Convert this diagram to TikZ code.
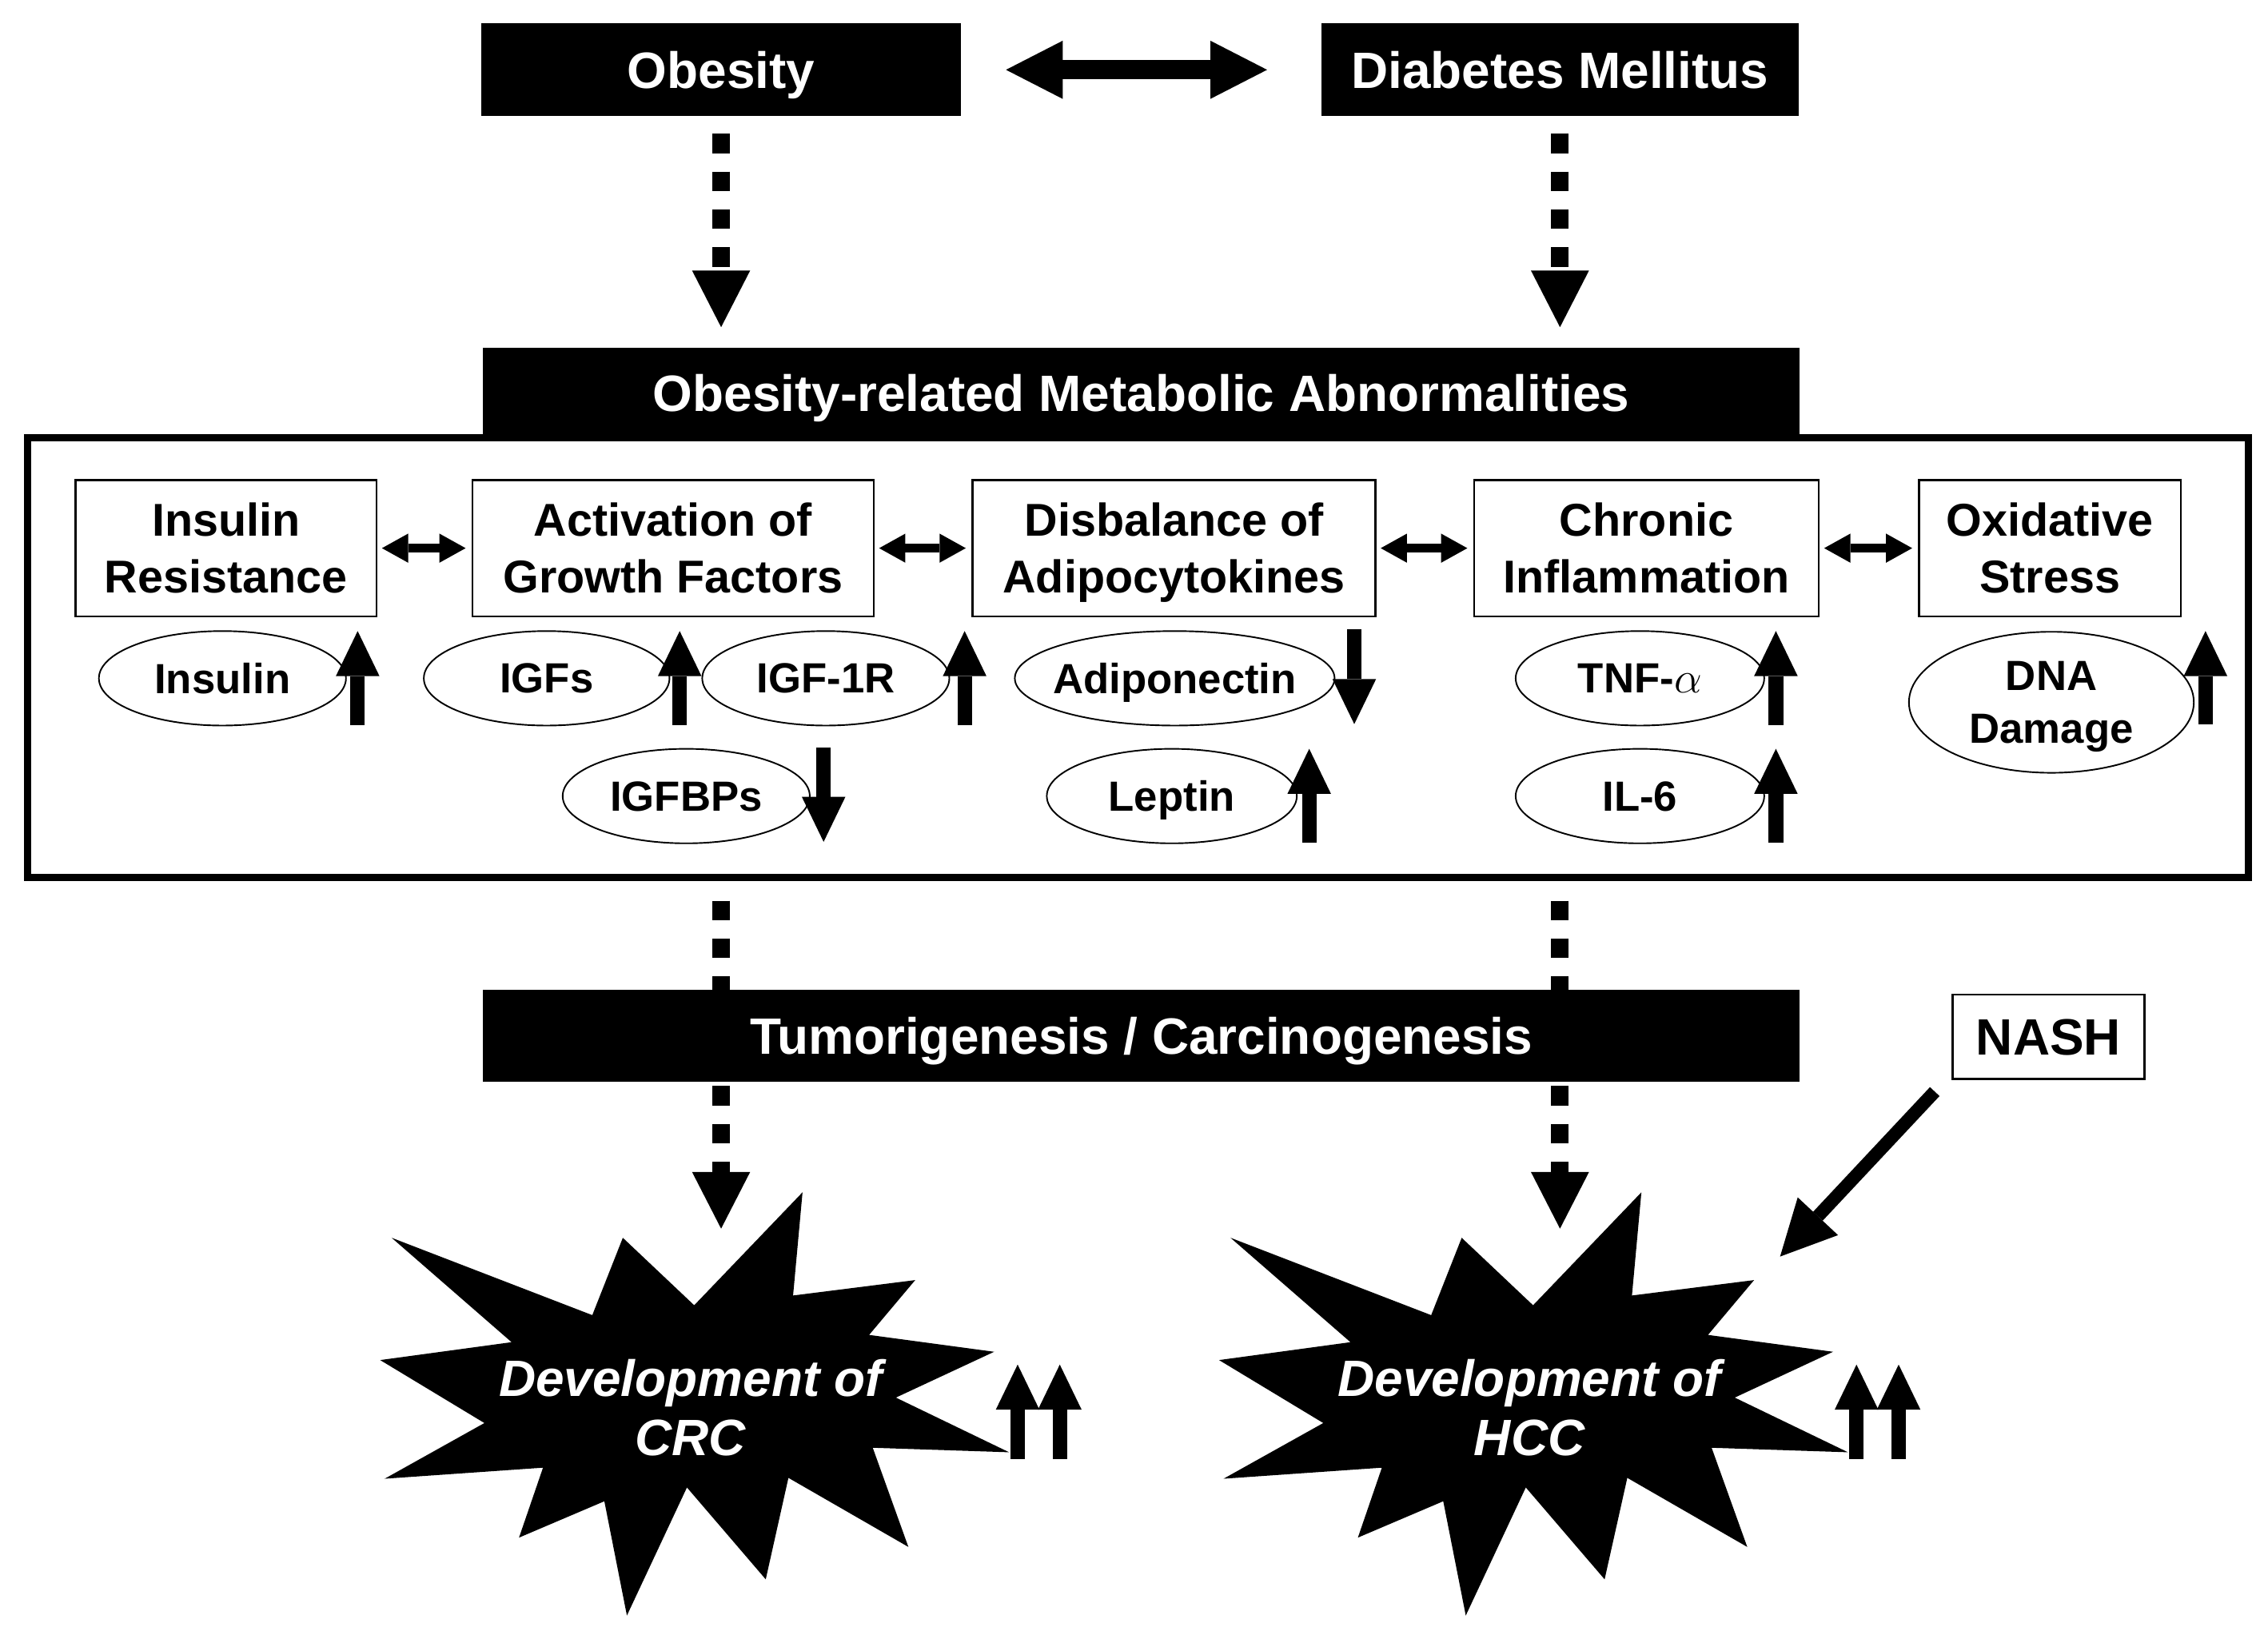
\documentclass[tikz,border=0pt]{standalone}
\usepackage{fontspec}
\setmainfont{Liberation Sans}
\usetikzlibrary{arrows.meta,shapes.geometric}

\tikzset{
  bigtip/.tip={Triangle[length=0.78cm,width=0.8cm,line width=0pt]},
  midtip/.tip={Triangle[length=0.62cm,width=0.6cm,line width=0pt]},
  smalltip/.tip={Triangle[length=0.36cm,width=0.4cm,line width=0pt]},
  blackbox/.style={fill=black, text=white, inner sep=0pt, outer sep=0pt,
    text height=14.4pt, text depth=0pt, font=\fontsize{20}{24}\selectfont\bfseries},
  whitebox/.style={draw, line width=0.85pt, fill=white, align=center, inner sep=0pt,
    text depth=0pt, font=\fontsize{18}{22.2}\selectfont\bfseries},
  factor/.style={draw, ellipse, line width=0.6pt, fill=white, align=center,
    minimum width=3.4cm, minimum height=1.3cm, inner sep=-0.3cm, text depth=0pt,
    font=\fontsize{16.5}{20.5}\selectfont\bfseries},
  startext/.style={text=white, align=center, font=\fontsize{20}{23.3}\selectfont\bfseries\itshape},
  dashline/.style={line width=0.24cm, dash pattern=on 0.27cm off 0.25cm},
  dasharrow/.style={dashline, -bigtip},
  bigboth/.style={line width=0.26cm, bigtip-bigtip},
  smallboth/.style={line width=0.12cm, smalltip-smalltip},
  uparr/.style={line width=0.2cm, -midtip},
  nasharr/.style={line width=0.18cm, -{Triangle[length=0.76cm,width=0.76cm,line width=0pt]}},
  burst/.pic={
    \fill (77,-150) -- (70.5,-79) -- (154.5,-89.6) -- (122.8,-51.9) -- (208.8,-40.3)
      -- (141.2,-8.8) -- (219.1,28.8) -- (125.3,25.7) -- (149.8,93.9) -- (67.3,46.4)
      -- (51.7,116.2) -- (-2.5,53) -- (-43.8,141.1) -- (-59.3,62.5) -- (-118,87.5)
      -- (-101.5,39.4) -- (-210.4,47) -- (-141.8,8.7) -- (-213.5,-34.6) -- (-123.1,-46.9)
      -- (-205.6,-118.7) -- (-67.6,-65.5) -- (-46.6,-118.7) -- (2.5,-72.3) -- cycle;
  }
}

\begin{document}
\begin{tikzpicture}[x=0.02cm, y=-0.02cm]
\useasboundingbox (0,0) rectangle (1560,1127);

% causes
\node[blackbox, minimum width=6.6cm, minimum height=1.28cm] (obesity) at (496,48) {Obesity};
\node[blackbox, minimum width=6.56cm, minimum height=1.28cm] (diabetes) at (1073,48) {Diabetes Mellitus};
\draw[bigboth] ([xshift=0.62cm]obesity.east) -- ([xshift=-0.75cm]diabetes.west);

% metabolic abnormalities
\node[draw, line width=0.1cm, minimum width=30.55cm, minimum height=6.05cm, inner sep=0pt] (frame) at (782.75,452.25) {};
\node[blackbox, minimum width=18.12cm, minimum height=1.24cm] (metab) at (785,270) {Obesity-related Metabolic Abnormalities};
\draw[dasharrow] ([yshift=-0.24cm]obesity.south) -- ([yshift=0.28cm]obesity.south |- metab.north);
\draw[dasharrow] ([yshift=-0.24cm]diabetes.south) -- ([yshift=0.28cm]diabetes.south |- metab.north);

\node[whitebox, minimum width=4.14cm, minimum height=1.88cm] (insres) at (155.5,377) {Insulin\\Resistance};
\node[whitebox, minimum width=5.52cm, minimum height=1.88cm] (growth) at (463,377) {Activation of\\Growth Factors};
\node[whitebox, minimum width=5.54cm, minimum height=1.88cm] (adipo) at (807.5,377) {Disbalance of\\Adipocytokines};
\node[whitebox, minimum width=4.74cm, minimum height=1.88cm] (inflam) at (1132.5,377) {Chronic\\Inflammation};
\node[whitebox, minimum width=3.6cm, minimum height=1.88cm] (oxid) at (1410,377) {Oxidative\\Stress};
\foreach \a/\b in {insres/growth, growth/adipo, adipo/inflam, inflam/oxid}
  \draw[smallboth] ([xshift=0.06cm]\a.east) -- ([xshift=-0.08cm]\b.west);

\node[factor] (insulin) at (153,466.5) {Insulin};
\node[factor, minimum width=3.38cm] (igfs) at (376,466.5) {IGFs};
\node[factor] (igfr) at (568,466.5) {IGF-1R};
\node[factor, minimum width=4.4cm] (adipon) at (808,466.5) {Adiponectin};
\node[factor, minimum width=3.42cm] (tnf) at (1128,466.5) {TNF-$\alpha$};
\node[factor, minimum width=3.92cm, minimum height=1.94cm] (dna) at (1411,483) {DNA\\Damage};
\node[factor] (igfbp) at (472,547.5) {IGFBPs};
\node[factor, minimum width=3.44cm] (leptin) at (806,547.5) {Leptin};
\node[factor, minimum width=3.42cm] (ilsix) at (1128,547.5) {IL-6};

\foreach \n/\dx in {insulin/0.15, igfs/0.13, igfr/0.2, tnf/0.15, leptin/0.16, ilsix/0.15}
  \draw[uparr] ([xshift=\dx cm,yshift=-0.64cm]\n.east) -- ([xshift=\dx cm,yshift=0.65cm]\n.east);
\draw[uparr] ([xshift=0.15cm,yshift=-0.3cm]dna.east) -- ([xshift=0.15cm,yshift=0.98cm]dna.east);
\foreach \n/\dx in {adipon/0.26, igfbp/0.18}
  \draw[uparr] ([xshift=\dx cm,yshift=0.67cm]\n.east) -- ([xshift=\dx cm,yshift=-0.63cm]\n.east);

% carcinogenesis
\node[blackbox, minimum width=18.12cm, minimum height=1.26cm] (tumor) at (785,712.5) {Tumorigenesis / Carcinogenesis};
\node[whitebox, text height=14.4pt, font=\fontsize{20}{24}\selectfont\bfseries,
  minimum width=2.64cm, minimum height=1.16cm] (nash) at (1409,713) {NASH};
\draw[dashline] ([yshift=-0.27cm]frame.south -| obesity.south) -- (obesity.south |- tumor.north);
\draw[dashline] ([yshift=-0.27cm]frame.south -| diabetes.south) -- (diabetes.south |- tumor.north);

\pic at (475,970) {burst};
\pic at (1052,970) {burst};
\node[startext] (crc) at (475,968) {Development of\\CRC};
\node[startext] (hcc) at (1052,968) {Development of\\HCC};
\coordinate (crctip) at (496,845);
\coordinate (hcctip) at (1073,845);
\coordinate (nashtip) at (1224.4,864.2);
\draw[dasharrow] ([yshift=-0.06cm]obesity.south |- tumor.south) -- (crctip);
\draw[dasharrow] ([yshift=-0.06cm]diabetes.south |- tumor.south) -- (hcctip);
\draw[nasharr] ([xshift=-0.23cm,yshift=-0.16cm]nash.south west) -- (nashtip);
\foreach \s in {crc,hcc}
  \foreach \dx in {4.5,5.08}
    \draw[uparr] ([xshift=\dx cm,yshift=-0.71cm]\s.center) -- ([xshift=\dx cm,yshift=0.59cm]\s.center);
\end{tikzpicture}
\end{document}
